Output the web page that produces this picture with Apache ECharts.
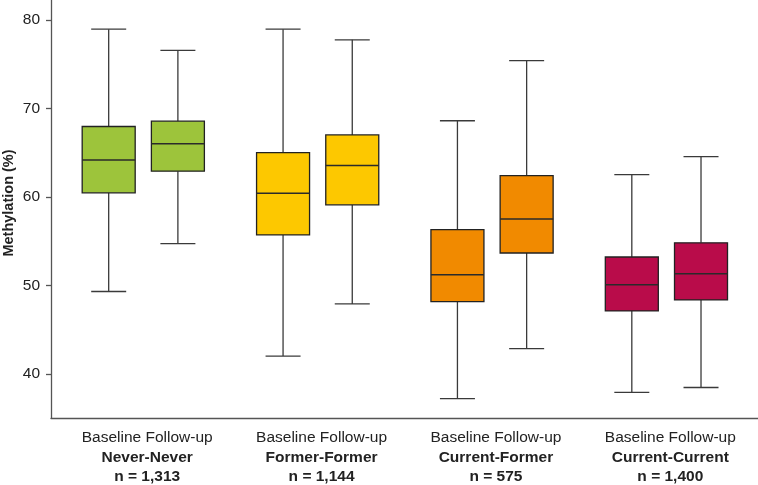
<!DOCTYPE html>
<html><head><meta charset="utf-8">
<script src="https://cdn.jsdelivr.net/npm/echarts@6/dist/echarts.min.js"></script>
<style>html,body{margin:0;padding:0;background:#fff}#c{width:758px;height:485px}</style>
</head><body><div id="c"></div>
<script>
const groups = ['Never-Never', 'Former-Former', 'Current-Former', 'Current-Current'];
const groupN = ['1,313', '1,144', '575', '1,400'];
const periods = ['Baseline', 'Follow-up'];
// each row: [min, Q1, median, Q3, max]
const baseline = [
  [49.3, 60.45, 64.15, 67.95, 78.95],
  [42.0, 55.7, 60.4, 65.0, 78.95],
  [37.2, 48.15, 51.2, 56.3, 68.6],
  [37.9, 47.1, 50.05, 53.2, 62.5]
];
const followup = [
  [54.7, 62.9, 66.0, 68.55, 76.55],
  [47.9, 59.1, 63.55, 67.0, 77.75],
  [42.85, 53.65, 57.5, 62.4, 75.4],
  [38.45, 48.35, 51.3, 54.8, 64.55]
];
const yTicks = [40, 50, 60, 70, 80];
const groupColors = ['#9dc43b', '#fdc800', '#f18a00', '#b90c4a'];

const FONT = '"Liberation Sans", Arial, Helvetica, sans-serif';
const Y_MIN = 35, Y_MAX = 82.25;

function makeRender(offset) {
  return function (params, api) {
    const ci = api.value(0);
    const cx = api.coord([ci, api.value(3)])[0] + offset;
    const y = k => api.coord([ci, api.value(k)])[1];
    const yMin = y(1), yQ1 = y(2), yMed = y(3), yQ3 = y(4), yMax = y(5);
    const hw = 26.5, cw = 17.5;
    const line = (x1, y1, x2, y2) => ({ type: 'line', shape: { x1, y1, x2, y2 }, style: { stroke: '#3a3a3a', lineWidth: 1.3 } });
    return {
      type: 'group',
      children: [
        line(cx, yQ3, cx, yMax), line(cx - cw, yMax, cx + cw, yMax),
        line(cx, yQ1, cx, yMin), line(cx - cw, yMin, cx + cw, yMin),
        { type: 'rect', shape: { x: cx - hw, y: yQ3, width: 2 * hw, height: yQ1 - yQ3 }, style: { fill: groupColors[ci], stroke: '#222', lineWidth: 1.3 } },
        { type: 'line', shape: { x1: cx - hw, y1: yMed, x2: cx + hw, y2: yMed }, style: { stroke: '#2a2a2a', lineWidth: 1.5 } }
      ]
    };
  };
}

const toData = arr => arr.map((r, i) => [i].concat(r));

const chart = echarts.init(document.getElementById('c'), null, { renderer: 'canvas' });
chart.setOption({
  animation: false,
  backgroundColor: '#fff',
  textStyle: { fontFamily: FONT },
  grid: [
    { left: 51, right: 0, top: 0, bottom: 67, containLabel: false, outerBoundsMode: 'none' },
    { left: 60, width: 697.5, top: 0, bottom: 67, containLabel: false, outerBoundsMode: 'none' }
  ],
  xAxis: [
    { gridIndex: 0, type: 'category', data: groups, axisLabel: { show: false }, axisTick: { show: false },
      axisLine: { show: true, lineStyle: { color: '#555', width: 1.3 } } },
    { gridIndex: 1, type: 'category', data: groups, axisLine: { show: false }, axisTick: { show: false },
      axisLabel: {
        interval: 0, margin: 10,
        formatter: (v, i) => '{a|' + periods.join(' ') + '}\n{b|' + v + '}\n{b|n = ' + groupN[i] + '}',
        rich: {
          a: { fontSize: 15.5, color: '#222', lineHeight: 19.5, fontFamily: FONT },
          b: { fontSize: 15.5, color: '#222', lineHeight: 19.5, fontWeight: 'bold', fontFamily: FONT }
        }
      } }
  ],
  yAxis: [
    { gridIndex: 0, type: 'value', min: Y_MIN, max: Y_MAX,
      axisLine: { show: true, lineStyle: { color: '#555', width: 1.3 } },
      axisTick: { show: true, length: 5, customValues: yTicks, lineStyle: { color: '#555', width: 1.3 } },
      axisLabel: { customValues: yTicks, fontSize: 15.5, color: '#222', margin: 11, fontFamily: FONT },
      splitLine: { show: false },
      name: 'Methylation (%)', nameLocation: 'middle', nameGap: 35, nameMoveOverlap: false,
      nameTextStyle: { fontSize: 14.5, fontWeight: 'bold', color: '#222', fontFamily: FONT, padding: [0, 0, 0, 12] } },
    { gridIndex: 1, type: 'value', min: Y_MIN, max: Y_MAX, show: false }
  ],
  series: [
    { name: periods[0], type: 'custom', xAxisIndex: 1, yAxisIndex: 1, renderItem: makeRender(-38.5),
      encode: { x: 0, y: [1, 2, 3, 4, 5] }, data: toData(baseline) },
    { name: periods[1], type: 'custom', xAxisIndex: 1, yAxisIndex: 1, renderItem: makeRender(30.7),
      encode: { x: 0, y: [1, 2, 3, 4, 5] }, data: toData(followup) }
  ]
});
</script>
</body></html>
